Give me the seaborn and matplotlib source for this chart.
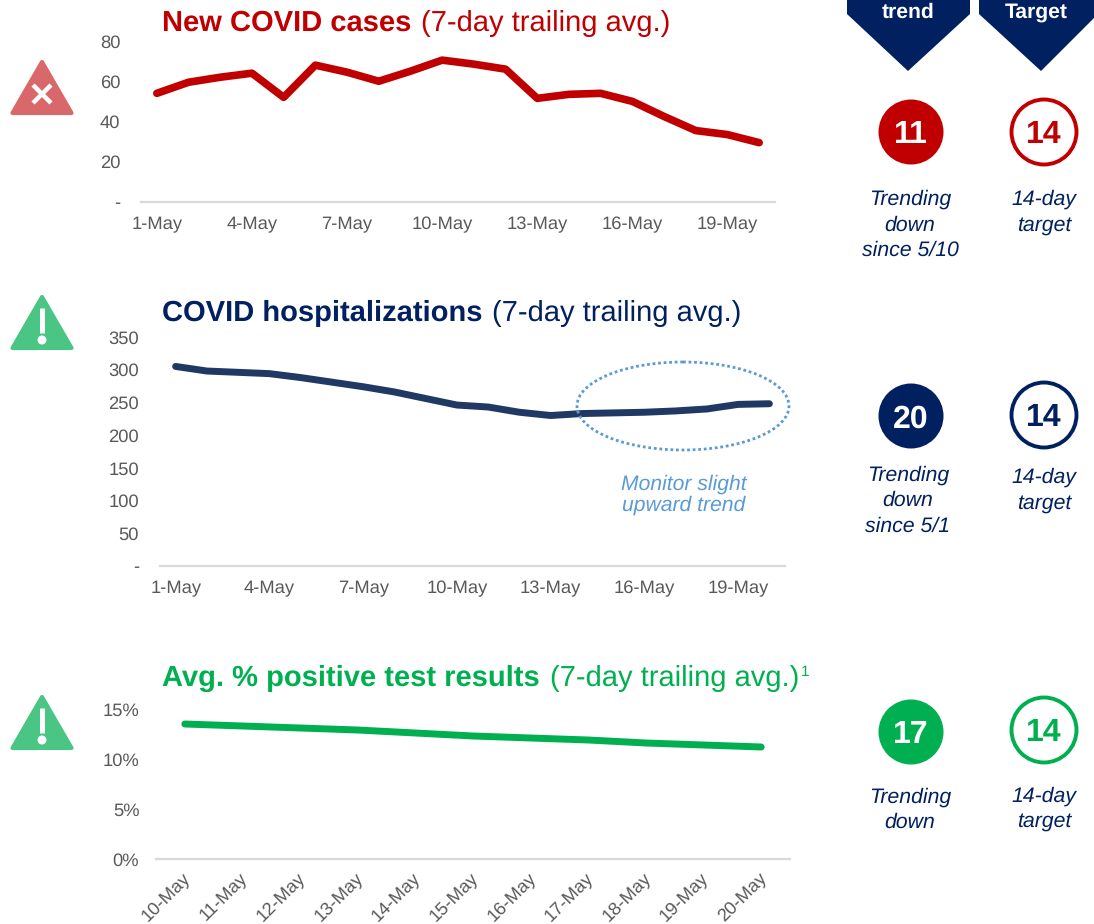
import pandas as pd
import matplotlib
matplotlib.use("Agg")
import matplotlib.pyplot as plt
from matplotlib.patches import Circle, Ellipse, Polygon
from matplotlib.transforms import ScaledTranslation
import seaborn as sns

W, H = 1094, 924
RED = "#C00000"
NAVY = "#002060"
GREEN = "#00B050"
GREY = "#595959"
BLUE = "#5B9BD5"

may_days = [f"{d}-May" for d in range(1, 21)]
cases = [54, 59.5, 62, 64, 52, 68, 64.5, 60, 65, 70.5, 68.5, 66, 51.5, 53.5, 54, 50, 42.5, 35.5, 33.5, 29.5]
hospital = [305, 298, 296, 294, 288, 281, 274, 266, 256, 246, 243, 235, 230, 233, 234, 235, 237, 240, 247, 248]
positive_days = [f"{d}-May" for d in range(10, 21)]
positive = [13.5, 13.3, 13.1, 12.9, 12.6, 12.3, 12.1, 11.9, 11.6, 11.4, 11.2]

cases_ticks = [0, 20, 40, 60, 80]
cases_labels = ["-", "20", "40", "60", "80"]
hospital_ticks = [0, 50, 100, 150, 200, 250, 300, 350]
hospital_labels = ["-", "50", "100", "150", "200", "250", "300", "350"]
positive_ticks = [0, 5, 10, 15]
positive_labels = ["0%", "5%", "10%", "15%"]

sns.set_theme(style="white")
plt.rcParams["font.family"] = ["Liberation Sans", "DejaVu Sans"]
plt.rcParams["text.hinting"] = "no_hinting"

fig = plt.figure(figsize=(W / 100, H / 100), dpi=100)


def line_panel(left, right, top, bottom, days, values, color, lw, ymax, ticks, labels, every=3, rotate=0, pad_y=14):
    ax = fig.add_axes([left / W, 1 - bottom / H, (right - left) / W, (bottom - top) / H])
    df = pd.DataFrame({"day": days, "value": values})
    sns.lineplot(data=df, x="day", y="value", sort=False, color=color, linewidth=lw, ax=ax)
    ax.lines[0].set_solid_capstyle("round")
    ax.lines[0].set_solid_joinstyle("round")
    ax.set_xlim(-0.5, len(days) - 0.5)
    ax.set_ylim(0, ymax)
    ax.set_xlabel("")
    ax.set_ylabel("")
    ax.set_xticks(range(0, len(days), every))
    if rotate:
        ax.set_xticklabels(days[::every], rotation=rotate, ha="right", va="top", rotation_mode="anchor")
    else:
        ax.set_xticklabels(days[::every])
    ax.set_yticks(ticks)
    ax.set_yticklabels(labels)
    ax.tick_params(axis="x", length=0, pad=8 if rotate else 10, labelsize=13.2, labelcolor=GREY)
    ax.tick_params(axis="y", length=0, pad=pad_y, labelsize=13.2, labelcolor=GREY)
    if rotate:
        # rotated labels end a little left of their tick
        shift = ScaledTranslation(-3 / 100, 0, fig.dpi_scale_trans)
        for lab in ax.get_xticklabels():
            lab.set_transform(lab.get_transform() + shift)
    sns.despine(ax=ax, left=True)
    ax.spines["bottom"].set_color("#D9D9D9")
    ax.spines["bottom"].set_linewidth(1.6)
    ax.patch.set_alpha(0)
    return ax


line_panel(141, 775, 41, 202, may_days, cases, RED, 5.5, 80, cases_ticks, cases_labels, pad_y=15)
line_panel(160, 785, 337, 566, may_days, hospital, "#1F3864", 5, 350, hospital_ticks, hospital_labels, pad_y=15)
line_panel(156, 790, 709, 859, positive_days, positive, GREEN, 5, 15, positive_ticks, positive_labels,
           every=1, rotate=45, pad_y=12)

# everything else sits on an overlay in pixel coordinates
over = fig.add_axes([0, 0, 1, 1])
over.set_xlim(0, W)
over.set_ylim(H, 0)
over.axis("off")
over.patch.set_alpha(0)

titles = [
    (162, 421, 23, "New COVID cases", "(7-day trailing avg.)", RED),
    (162, 492, 313, "COVID hospitalizations", "(7-day trailing avg.)", NAVY),
    (162, 550, 678, "Avg. % positive test results", "(7-day trailing avg.)", GREEN),
]
for x1, x2, y, bold, light, col in titles:
    over.text(x1, y, bold, color=col, fontsize=21, fontweight="bold", va="center")
    over.text(x2, y, light, color=col, fontsize=21, va="center")
over.text(801, 672, "1", color=col, fontsize=11, va="center")

# warning triangles
icons = [(42, 62, 113, "#D9686A", "x"), (42, 297, 348, "#4AC583", "!"), (42, 697, 748, "#4AC583", "!")]
for cx, ytop, ybot, col, mark in icons:
    over.add_patch(Polygon([(cx, ytop), (cx + 29.5, ybot), (cx - 29.5, ybot)], closed=True, facecolor=col,
                           edgecolor=col, linewidth=3, joinstyle="round"))
    if mark == "x":
        over.plot([cx - 9, cx + 9], [85, 103], color="white", lw=3.2, solid_capstyle="butt")
        over.plot([cx - 9, cx + 9], [103, 85], color="white", lw=3.2, solid_capstyle="butt")
    else:
        over.plot([cx, cx], [ytop + 11, ytop + 36], color="white", lw=3.6, solid_capstyle="butt")
        over.add_patch(Circle((cx, ytop + 43), 3.8, color="white"))

# header arrows
for xl, xr, tip, label in [(847, 970, 908, "trend"), (979, 1098, 1041, "Target")]:
    over.add_patch(Polygon([(xl, -2), (xr, -2), (xr, 14), (tip, 71), (xl, 14)], closed=True, facecolor=NAVY,
                           edgecolor="none"))
    over.text((xl + xr) / 2 - (2 if xl == 979 else 0), 12, label, color="white", fontsize=15.2,
              fontweight="bold", ha="center", va="center")

# trend / target bubbles
bubbles = [
    (911, 132, 1044, 132, "11", "14", RED),
    (911, 416, 1044, 415, "20", "14", NAVY),
    (911, 732, 1044, 730, "17", "14", GREEN),
]
for x1, y1, x2, y2, trend, target, col in bubbles:
    over.add_patch(Circle((x1, y1), 32.5, facecolor=col, edgecolor="none"))
    over.add_patch(Circle((x2, y2), 32.5, facecolor="white", edgecolor=col, linewidth=2.8))
    over.text(x1, y1 + 3, trend, color="white", fontsize=23, fontweight="bold", ha="center", va="center")
    over.text(x2, y2 + 3, target, color=col, fontsize=23, fontweight="bold", ha="center", va="center")

notes = [
    (910, 199, "Trending"), (910, 225, "down"), (910, 250, "since 5/10"),
    (1044, 199, "14-day"), (1044, 225, "target"),
    (908, 475, "Trending"), (908, 500, "down"), (908, 526, "since 5/1"),
    (1044, 477, "14-day"), (1044, 503, "target"),
    (910, 797, "Trending"), (910, 822, "down"),
    (1044, 796, "14-day"), (1044, 821, "target"),
]
for x, y, txt in notes:
    over.text(x, y, txt, color=NAVY, fontsize=15.3, fontstyle="italic", ha="center", va="center")

over.add_patch(Ellipse((683, 406), 212, 88, facecolor="none", edgecolor=BLUE, linewidth=2, linestyle=(0, (1, 1))))
over.text(684, 484, "Monitor slight", color=BLUE, fontsize=15.2, fontstyle="italic", ha="center", va="center")
over.text(684, 505, "upward trend", color=BLUE, fontsize=15.2, fontstyle="italic", ha="center", va="center")

fig.savefig("out.png", dpi=100)
